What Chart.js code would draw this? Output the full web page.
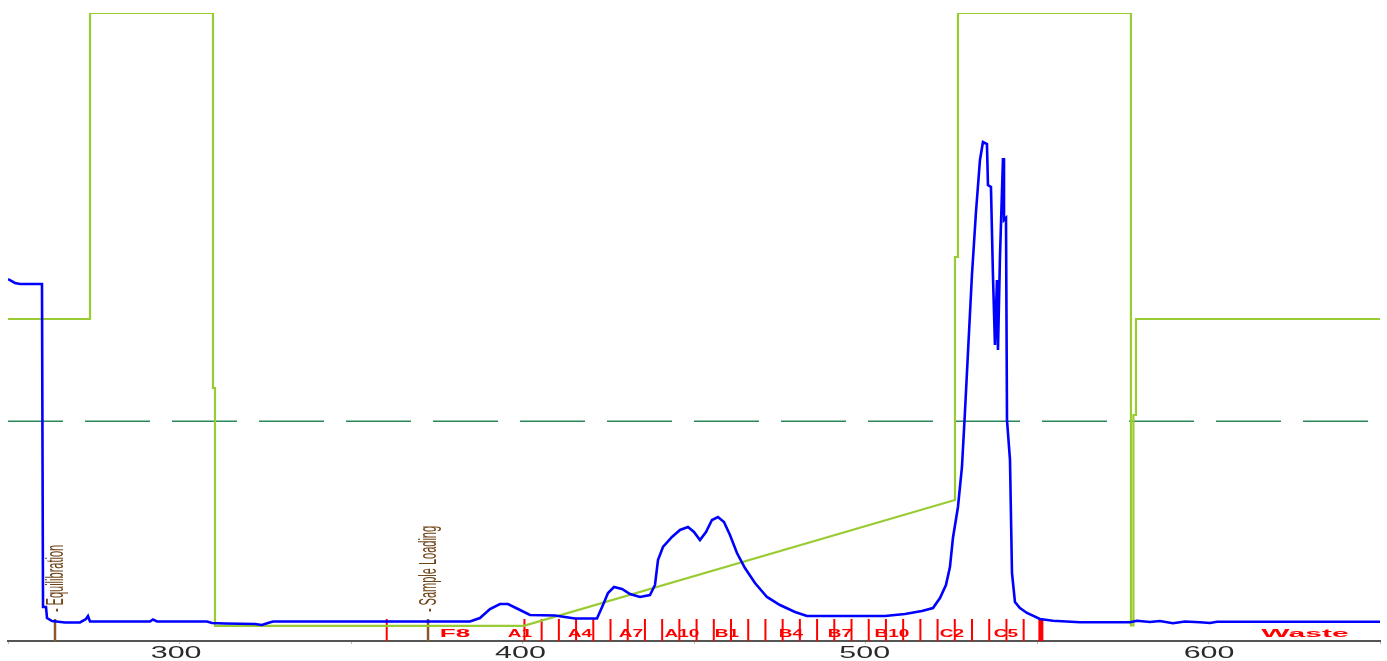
<!DOCTYPE html>
<html><head><meta charset="utf-8">
<script src="https://cdn.jsdelivr.net/npm/chart.js@4.4.0/dist/chart.umd.min.js"></script>
<style>html,body{margin:0;padding:0;background:#fff;overflow:hidden}canvas{display:block}</style>
</head><body>
<canvas id="c" width="1387" height="661"></canvas>
<script>
// UV absorbance trace (blue)
const uvX = [250.0,252.03,253.49,259.87,260.17,261.04,261.33,262.78,266.56,270.91,272.65,273.24,273.82,291.24,292.11,293.28,307.80,309.25,313.03,321.74,323.77,325.51,326.97,384.18,387.09,389.99,392.90,395.22,398.13,401.61,408.87,411.78,414.68,421.07,422.81,424.27,426.01,428.33,430.66,433.56,436.46,437.92,438.79,440.24,442.85,445.18,447.50,449.24,450.98,452.73,454.47,456.21,457.96,459.70,461.73,464.05,466.96,470.44,474.22,478.58,482.06,504.72,510.52,515.46,518.66,520.69,522.43,523.59,524.46,525.92,527.08,527.95,528.82,529.98,531.15,532.31,533.18,534.34,534.63,535.50,536.08,536.66,537.25,537.54,538.12,539.00,539.29,539.87,540.16,541.03,541.61,542.47,543.92,545.96,549.73,553.51,561.35,575.87,577.90,581.68,584.58,588.36,591.85,596.20,599.11,601.14,648.5];
const uvY = [57.64,57.01,56.85,56.85,5.41,5.41,3.66,3.18,2.95,2.95,3.50,3.98,3.11,3.11,3.42,3.11,3.11,2.87,2.79,2.71,2.55,2.87,3.11,3.11,3.66,5.10,5.89,5.89,5.10,4.14,4.06,3.82,3.58,3.58,5.73,7.64,8.60,8.28,7.48,7.01,7.32,8.92,12.90,14.97,16.56,17.68,18.15,17.36,16.08,17.36,19.27,19.75,18.95,16.88,14.01,11.62,9.24,7.01,5.73,4.62,3.98,3.98,4.30,4.78,5.25,6.85,8.92,11.78,16.40,21.34,27.71,36.46,45.86,58.28,68.31,76.59,79.46,79.14,72.61,72.29,58.28,47.13,57.48,46.34,61.15,76.91,67.04,67.36,35.19,28.82,10.83,6.21,5.25,4.46,3.50,3.23,2.98,2.98,3.23,3.03,3.18,2.82,3.11,2.98,2.87,3.07,3.07];

// Gradient / %B trace (green)
const gradX = [250,273.82,273.82,309.54,309.54,310.12,310.12,399.8,525.05,525.05,525.92,525.92,576.16,576.16,576.89,576.89,577.62,577.62,648.5];
const gradY = [51.27,51.27,100,100,40.29,40.29,2.4,2.4,22.45,61.15,61.15,100,100,2.5,2.5,35.99,35.99,51.27,51.27];

// Threshold (dashed)
const thresholdX = [250, 648.5];
const thresholdY = [35, 35];

// X axis ticks
const xTickValues = [300, 400, 500, 600];
const xTickLabels = ['300', '400', '500', '600'];

// Fractions
const fractionBounds = [360,400,405,410,415,420,425,430,435,440,445,450,455,460,465,470,475,480,485,490,495,500,505,510,515,520,525,530,535,540,545,550];
const fractionLabels = ['F8','A1','A4','A7','A10','B1','B4','B7','B10','C2','C5','Waste'];
const fractionLabelX = [379.83,398.70,416.13,430.94,445.76,458.83,477.41,491.65,506.75,524.18,539.86,626.70];

// Events
const eventX = [263.65, 372.0];
const eventLabels = ['- Equilibration', '- Sample Loading'];

function pts(xs, ys){ return xs.map((v,i)=>({x:v, y:ys[i]})); }

function stretchText(ctx, t, px, py, sx, rotate){
  ctx.save();
  ctx.translate(px, py);
  ctx.scale(sx, 1);
  if (rotate) ctx.rotate(-Math.PI/2);
  ctx.fillText(t, 0, 0);
  ctx.restore();
}

const markerPlugin = {
  id: 'markers',
  beforeDatasetsDraw(chart){
    const ctx = chart.ctx, x = chart.scales.x, y = chart.scales.y;
    const y0 = y.getPixelForValue(0);
    const yTop = y.getPixelForValue(3.5);
    ctx.save();
    ctx.strokeStyle = '#ff0000';
    fractionBounds.forEach((v,i)=>{
      const px = x.getPixelForValue(v);
      ctx.lineWidth = (i === fractionBounds.length-1) ? 5 : 2;
      ctx.beginPath(); ctx.moveTo(px, y0); ctx.lineTo(px, yTop); ctx.stroke();
    });
    ctx.fillStyle = '#ff0000';
    ctx.font = 'bold 10px "Liberation Sans", Arial, sans-serif';
    ctx.textAlign = 'center'; ctx.textBaseline = 'middle';
    const wide = {F8: 2.6, Waste: 3.0};
    fractionLabels.forEach((t,i)=>{
      const px = x.getPixelForValue(fractionLabelX[i]);
      const py = y.getPixelForValue(1.1);
      stretchText(ctx, t, px, py, wide[t] || 1.9, false);
    });
    // events
    ctx.strokeStyle = '#8B5A2B'; ctx.fillStyle = '#6e4216';
    ctx.lineWidth = 2.5;
    ctx.font = '11px "Liberation Sans", Arial, sans-serif';
    ctx.textAlign = 'left'; ctx.textBaseline = 'middle';
    eventX.forEach((v,i)=>{
      const px = x.getPixelForValue(v);
      ctx.beginPath(); ctx.moveTo(px, y0); ctx.lineTo(px, yTop); ctx.stroke();
      stretchText(ctx, eventLabels[i], px + 1, y.getPixelForValue(4.6), 2.2, true);
    });
    ctx.restore();
  },
  afterDraw(chart){
    const ctx = chart.ctx, x = chart.scales.x;
    ctx.save();
    ctx.fillStyle = '#2a2a2a';
    ctx.font = '16px "Liberation Sans", Arial, sans-serif';
    ctx.textAlign = 'center'; ctx.textBaseline = 'top';
    xTickValues.forEach((v,i)=>{
      stretchText(ctx, xTickLabels[i], x.getPixelForValue(v) - 4, chart.chartArea.bottom + 5, 1.9, false);
    });
    ctx.restore();
  }
};

new Chart(document.getElementById('c'), {
  type: 'scatter',
  data: {
    datasets: [
      {label:'UV', data: pts(uvX, uvY), showLine:true, borderColor:'#0000ff', borderWidth:2.6, pointRadius:0, tension:0},
      {label:'Gradient', data: pts(gradX, gradY), showLine:true, borderColor:'#99cc33', borderWidth:2.2, pointRadius:0, tension:0},
      {label:'Threshold', data: pts(thresholdX, thresholdY), showLine:true, borderColor:'#2a8658', borderWidth:1.5, borderDash:[65,22], borderDashOffset:10, pointRadius:0}
    ]
  },
  options: {
    responsive:false, animation:false, devicePixelRatio:1,
    layout:{padding:{left:8, right:7, top:13, bottom:0}},
    plugins:{legend:{display:false}, tooltip:{enabled:false}},
    scales:{
      x:{type:'linear', min:250, max:648.5,
         border:{display:true, color:'#555', width:2},
         grid:{drawOnChartArea:false, drawTicks:true, tickLength:3, color:'#bbb'},
         ticks:{display:false, stepSize:50, includeBounds:false},
         afterFit(s){ s.height = 20; }},
      y:{display:false, min:0, max:100}
    }
  },
  plugins:[markerPlugin]
});
</script>
</body></html>
